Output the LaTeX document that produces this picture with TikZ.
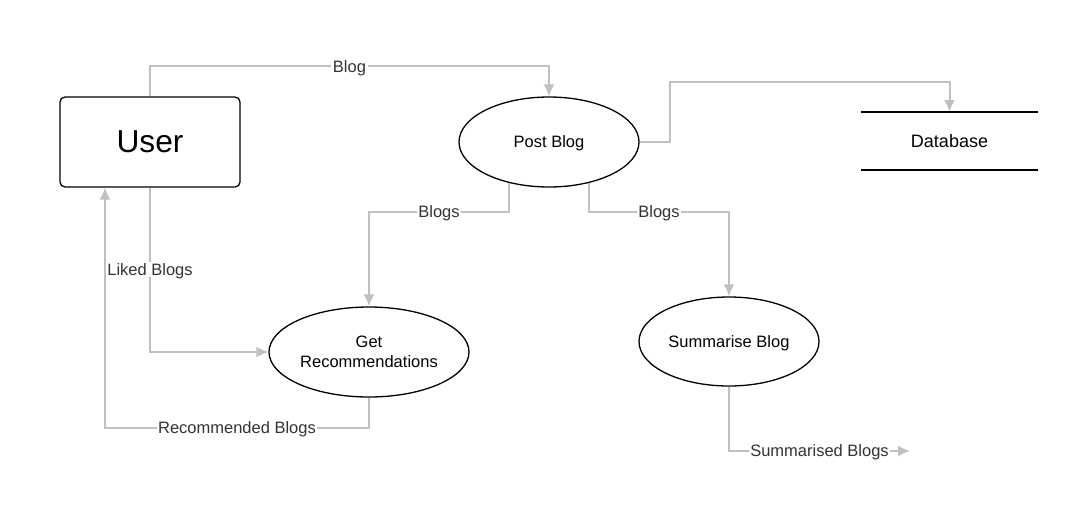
\documentclass[tikz,border=0pt]{standalone}
\usepackage{fontspec}
\setmainfont{Liberation Sans}
\usepackage{xcolor}
\usetikzlibrary{arrows.meta}
\usetikzlibrary{shapes}
\usetikzlibrary{backgrounds}
\usetikzlibrary{calc}
\usetikzlibrary{positioning}

\definecolor{flowgrey}{HTML}{C0C0C0}
\definecolor{labelgrey}{HTML}{333333}

\begin{document}
\begin{tikzpicture}[x=1pt, y=-1pt, >={Latex[length=12pt,width=11pt]},
  proc/.style={ellipse, draw, line width=1.3pt, fill=white, minimum width=180pt, minimum height=90pt, inner sep=0pt, align=center, font=\fontsize{16.5}{19.5}\selectfont},
  flow/.style={draw=flowgrey, line width=2pt, ->},
  lbl/.style={fill=white, text=labelgrey, inner sep=1.5pt, text depth=0pt, font=\fontsize{16.5}{19.5}\selectfont}]

\useasboundingbox (0,0) rectangle (1091,507);

%entity and processes
\node[draw, fill=white, rounded corners=5pt, line width=1.3pt, minimum width=180pt, minimum height=90pt, text depth=0pt, font=\fontsize{31.7}{36}\selectfont] (user) at (150,142) {User};
\node[proc, text depth=0pt] (post) at (549,142) {Post Blog};
\node[proc, minimum width=200pt, inner xsep=-4pt] (getrec) at (369,352) {Get\\Recommendations};
\node[proc, minimum height=89pt, text depth=0pt] (summ) at (729,341.5) {Summarise Blog};

%data store
\node[minimum width=177pt, minimum height=58pt, outer sep=0pt, text depth=0pt, font=\fontsize{18}{21}\selectfont] (db) at (949.5,141) {Database};
\draw[line width=1.3pt] (db.north west) -- (db.north east) (db.south west) -- (db.south east);

\coordinate (out) at (910,451);

%flows
\begin{scope}[on background layer]
  \draw[flow] (user.north) -- ++(0,-30) -| node[lbl,pos=0.25] {Blog} (post.north);
  \draw[flow] (post.east) -- ++(30,0) -- ++(0,-60) -| (db.north);
  \draw[flow] ([xshift=-40pt]post.center) -- ++(0,70) -| node[lbl,pos=0.25] {Blogs} (getrec.north);
  \draw[flow] ([xshift=40pt]post.center) -- ++(0,70) -| node[lbl,pos=0.25] {Blogs} (summ.north);
  \draw[flow] (user.south) |- node[lbl,pos=0.25] {Liked Blogs} (getrec.west);
  \draw[flow] (getrec.south) -- ++(0,30) -| node[lbl,pos=0.25] {Recommended Blogs} ([xshift=-45pt]user.south);
  \draw[flow] (summ.south) |- node[lbl,pos=0.75] {Summarised Blogs} (out);
\end{scope}
\end{tikzpicture}
\end{document}
